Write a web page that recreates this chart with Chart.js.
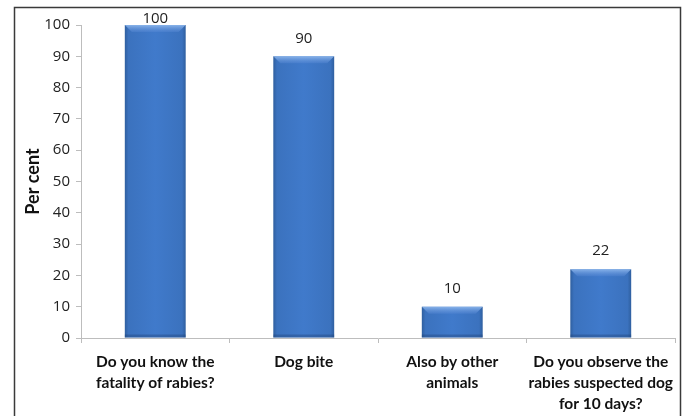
<!DOCTYPE html>
<html>
<head>
<meta charset="utf-8">
<script src="https://cdn.jsdelivr.net/npm/chart.js@4/dist/chart.umd.min.js"></script>
<style>
  html, body { margin: 0; padding: 0; background: #fff; overflow: hidden; }
  #wrap { position: absolute; left: 0; top: 0; width: 685px; height: 416px; }
</style>
</head>
<body>
<div id="wrap"><canvas id="chart"></canvas></div>
<script>
const categories = [
  ['Do you know the', 'fatality of rabies?'],
  ['Dog bite'],
  ['Also by other', 'animals'],
  ['Do you observe the', 'rabies suspected dog', 'for 10 days?']
];
const percents = [100, 90, 10, 22];
const yTicks = [0, 10, 20, 30, 40, 50, 60, 70, 80, 90, 100];

const BAR_PCT = 0.41;

function barFill(c) {
  const chart = c.chart;
  if (!chart.chartArea || !chart.scales.x) return '#3f78c8';
  const xs = chart.scales.x;
  const cx = xs.getPixelForValue(c.dataIndex);
  const w = (xs.width / categories.length) * BAR_PCT;
  const g = chart.ctx.createLinearGradient(cx - w / 2, 0, cx + w / 2, 0);
  g.addColorStop(0, '#2f5f9f');
  g.addColorStop(0.06, '#3b72be');
  g.addColorStop(0.5, '#407acb');
  g.addColorStop(0.94, '#3b72be');
  g.addColorStop(1, '#2f5f9f');
  return g;
}

// frame round the chart, bottom edge runs off the picture
const framePlugin = {
  id: 'frame',
  afterDraw(chart) {
    const ctx = chart.ctx;
    ctx.save();
    ctx.strokeStyle = '#3a3a3a';
    ctx.lineWidth = 1.5;
    ctx.strokeRect(14.5, 7.5, 666, 430);
    ctx.restore();
  }
};

// bevel on top of each bar + value labels
const labelPlugin = {
  id: 'vals',
  afterDatasetsDraw(chart) {
    const ctx = chart.ctx;
    const meta = chart.getDatasetMeta(0);
    ctx.save();
    meta.data.forEach((bar, i) => {
      const half = bar.width / 2;
      const l = bar.x - half, r = bar.x + half, t = bar.y;
      const g = ctx.createLinearGradient(0, t, 0, t + 8);
      g.addColorStop(0, 'rgba(150,190,240,0.85)');
      g.addColorStop(1, 'rgba(80,130,210,0.3)');
      ctx.fillStyle = g;
      ctx.beginPath();
      ctx.moveTo(l, t);
      ctx.lineTo(r, t);
      ctx.lineTo(r - 7, t + 7);
      ctx.lineTo(l + 7, t + 7);
      ctx.closePath();
      ctx.fill();
      // darker bottom strip
      const base = bar.base;
      ctx.fillStyle = 'rgba(30,60,110,0.35)';
      ctx.fillRect(l, base - 3, bar.width, 3);

      ctx.fillStyle = '#222';
      ctx.font = '15px "Open Sans", "Liberation Sans", sans-serif';
      ctx.textAlign = 'center';
      ctx.textBaseline = 'middle';
      let y = t - 18;
      if (y < 19) y = 19;
      ctx.fillText(String(percents[i]), bar.x, y);
    });
    ctx.restore();
  }
};

new Chart(document.getElementById('chart'), {
  type: 'bar',
  data: {
    labels: categories,
    datasets: [{
      data: percents,
      backgroundColor: barFill,
      borderWidth: 0,
      barPercentage: BAR_PCT,
      categoryPercentage: 1
    }]
  },
  options: {
    responsive: true,
    maintainAspectRatio: false,
    animation: false,
    events: [],
    layout: { padding: { left: 22, right: 10, top: 25, bottom: 0 } },
    plugins: {
      legend: { display: false },
      tooltip: { enabled: false }
    },
    scales: {
      x: {
        offset: true,
        grid: { display: true, offset: true, drawOnChartArea: false, tickLength: 5, color: '#bdbdbd' },
        border: { color: '#bdbdbd', width: 1 },
        ticks: {
          color: '#111',
          padding: 8,
          maxRotation: 0,
          autoSkip: false,
          font: { family: 'Lato, "Open Sans", sans-serif', size: 15.5, weight: 'bold', lineHeight: '21px' }
        },
        afterFit(s) { s.height = 78; }
      },
      y: {
        min: 0,
        max: 100,
        afterBuildTicks(s) { s.ticks = yTicks.map(v => ({ value: v })); },
        grid: { display: true, drawOnChartArea: false, tickLength: 5, color: '#bdbdbd' },
        border: { color: '#bdbdbd', width: 1 },
        ticks: {
          color: '#222',
          padding: 6,
          font: { family: '"Open Sans", "Liberation Sans", sans-serif', size: 15 }
        },
        title: {
          display: true,
          text: 'Per cent',
          color: '#111',
          padding: { top: 0, bottom: 4 },
          font: { family: 'Lato, "Open Sans", sans-serif', size: 18, weight: 'bold' }
        },
        afterFit(s) { s.width = 59; }
      }
    }
  },
  plugins: [labelPlugin, framePlugin]
});
</script>
</body>
</html>
